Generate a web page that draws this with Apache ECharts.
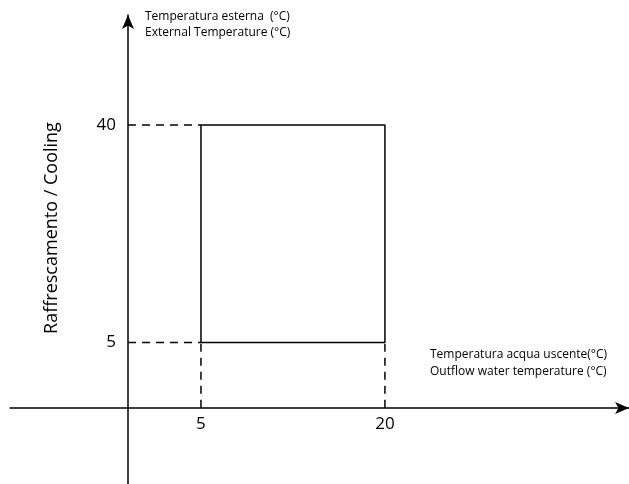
<!DOCTYPE html>
<html>
<head>
<meta charset="utf-8">
<script src="https://cdn.jsdelivr.net/npm/echarts@6/dist/echarts.min.js"></script>
<style>
  html, body { margin: 0; padding: 0; background: #fff; }
  #chart { width: 629px; height: 484px; }
</style>
</head>
<body>
<div id="chart"></div>
<script>
// operating envelope (cooling)
const waterRange = [5, 20];      // outflow water temperature (°C)
const airRange = [5, 40];        // external temperature (°C)
const xTickLabels = [5, 20];
const yTickLabels = [5, 40];

// where the drawn axes cross (schematic, not at zero)
const axisCrossX = -0.95;
const axisCrossY = -5.5;

const FONT = 'Open Sans';

const chart = echarts.init(document.getElementById('chart'));

const [x0, x1] = waterRange;
const [y0, y1] = airRange;

const box = [[x0, y0], [x1, y0], [x1, y1], [x0, y1], [x0, y0]];

const dashed = { color: '#000', width: 1.5, type: [8, 6] };

const option = {
  backgroundColor: '#ffffff',
  animation: false,
  grid: { left: 10, right: 0, top: 15, bottom: 0, containLabel: false },
  xAxis: {
    type: 'value',
    min: -10.57,
    max: 39.9,
    offset: -76,
    splitLine: { show: false },
    axisTick: { show: false },
    axisLine: {
      onZero: false,
      lineStyle: { color: '#000', width: 1.5 },
      symbol: ['none', 'arrow'],
      symbolSize: [9, 14],
    },
    axisLabel: {
      customValues: xTickLabels,
      color: '#000',
      fontSize: 17,
      fontFamily: FONT,
      margin: 8,
    },
  },
  yAxis: {
    type: 'value',
    min: -17.77,
    max: 57.7,
    offset: -118,
    splitLine: { show: false },
    axisTick: { show: false },
    axisLine: {
      onZero: false,
      lineStyle: { color: '#000', width: 1.5 },
      symbol: ['none', 'arrow'],
      symbolSize: [9, 14],
    },
    axisLabel: {
      customValues: yTickLabels,
      color: '#000',
      fontSize: 17,
      fontFamily: FONT,
      margin: 12,
    },
  },
  series: [
    {
      name: 'envelope',
      type: 'line',
      data: box,
      symbol: 'none',
      lineStyle: { color: '#000', width: 1.5 },
      z: 3,
    },
    // guide lines back to the axes
    { type: 'line', symbol: 'none', lineStyle: dashed, data: [[axisCrossX, y1], [x0, y1]] },
    { type: 'line', symbol: 'none', lineStyle: dashed, data: [[axisCrossX, y0], [x0, y0]] },
    { type: 'line', symbol: 'none', lineStyle: dashed, data: [[x0, axisCrossY], [x0, y0]] },
    { type: 'line', symbol: 'none', lineStyle: dashed, data: [[x1, axisCrossY], [x1, y0]] },
  ],
  graphic: [
    {
      type: 'text',
      left: 145,
      top: 9,
      style: {
        text: 'Temperatura esterna  (°C)\nExternal Temperature (°C)',
        fontSize: 12,
        lineHeight: 16,
        fontFamily: FONT,
        fill: '#000',
      },
    },
    {
      type: 'text',
      left: 430,
      top: 346,
      style: {
        text: 'Temperatura acqua uscente(°C)\nOutflow water temperature (°C)',
        fontSize: 12,
        lineHeight: 17,
        fontFamily: FONT,
        fill: '#000',
      },
    },
    {
      type: 'text',
      x: 52,
      y: 228,
      rotation: Math.PI / 2,
      style: {
        text: 'Raffrescamento / Cooling',
        fontSize: 18,
        fontFamily: FONT,
        fill: '#000',
        align: 'center',
        verticalAlign: 'middle',
      },
    },
  ],
};

chart.setOption(option);
</script>
</body>
</html>
